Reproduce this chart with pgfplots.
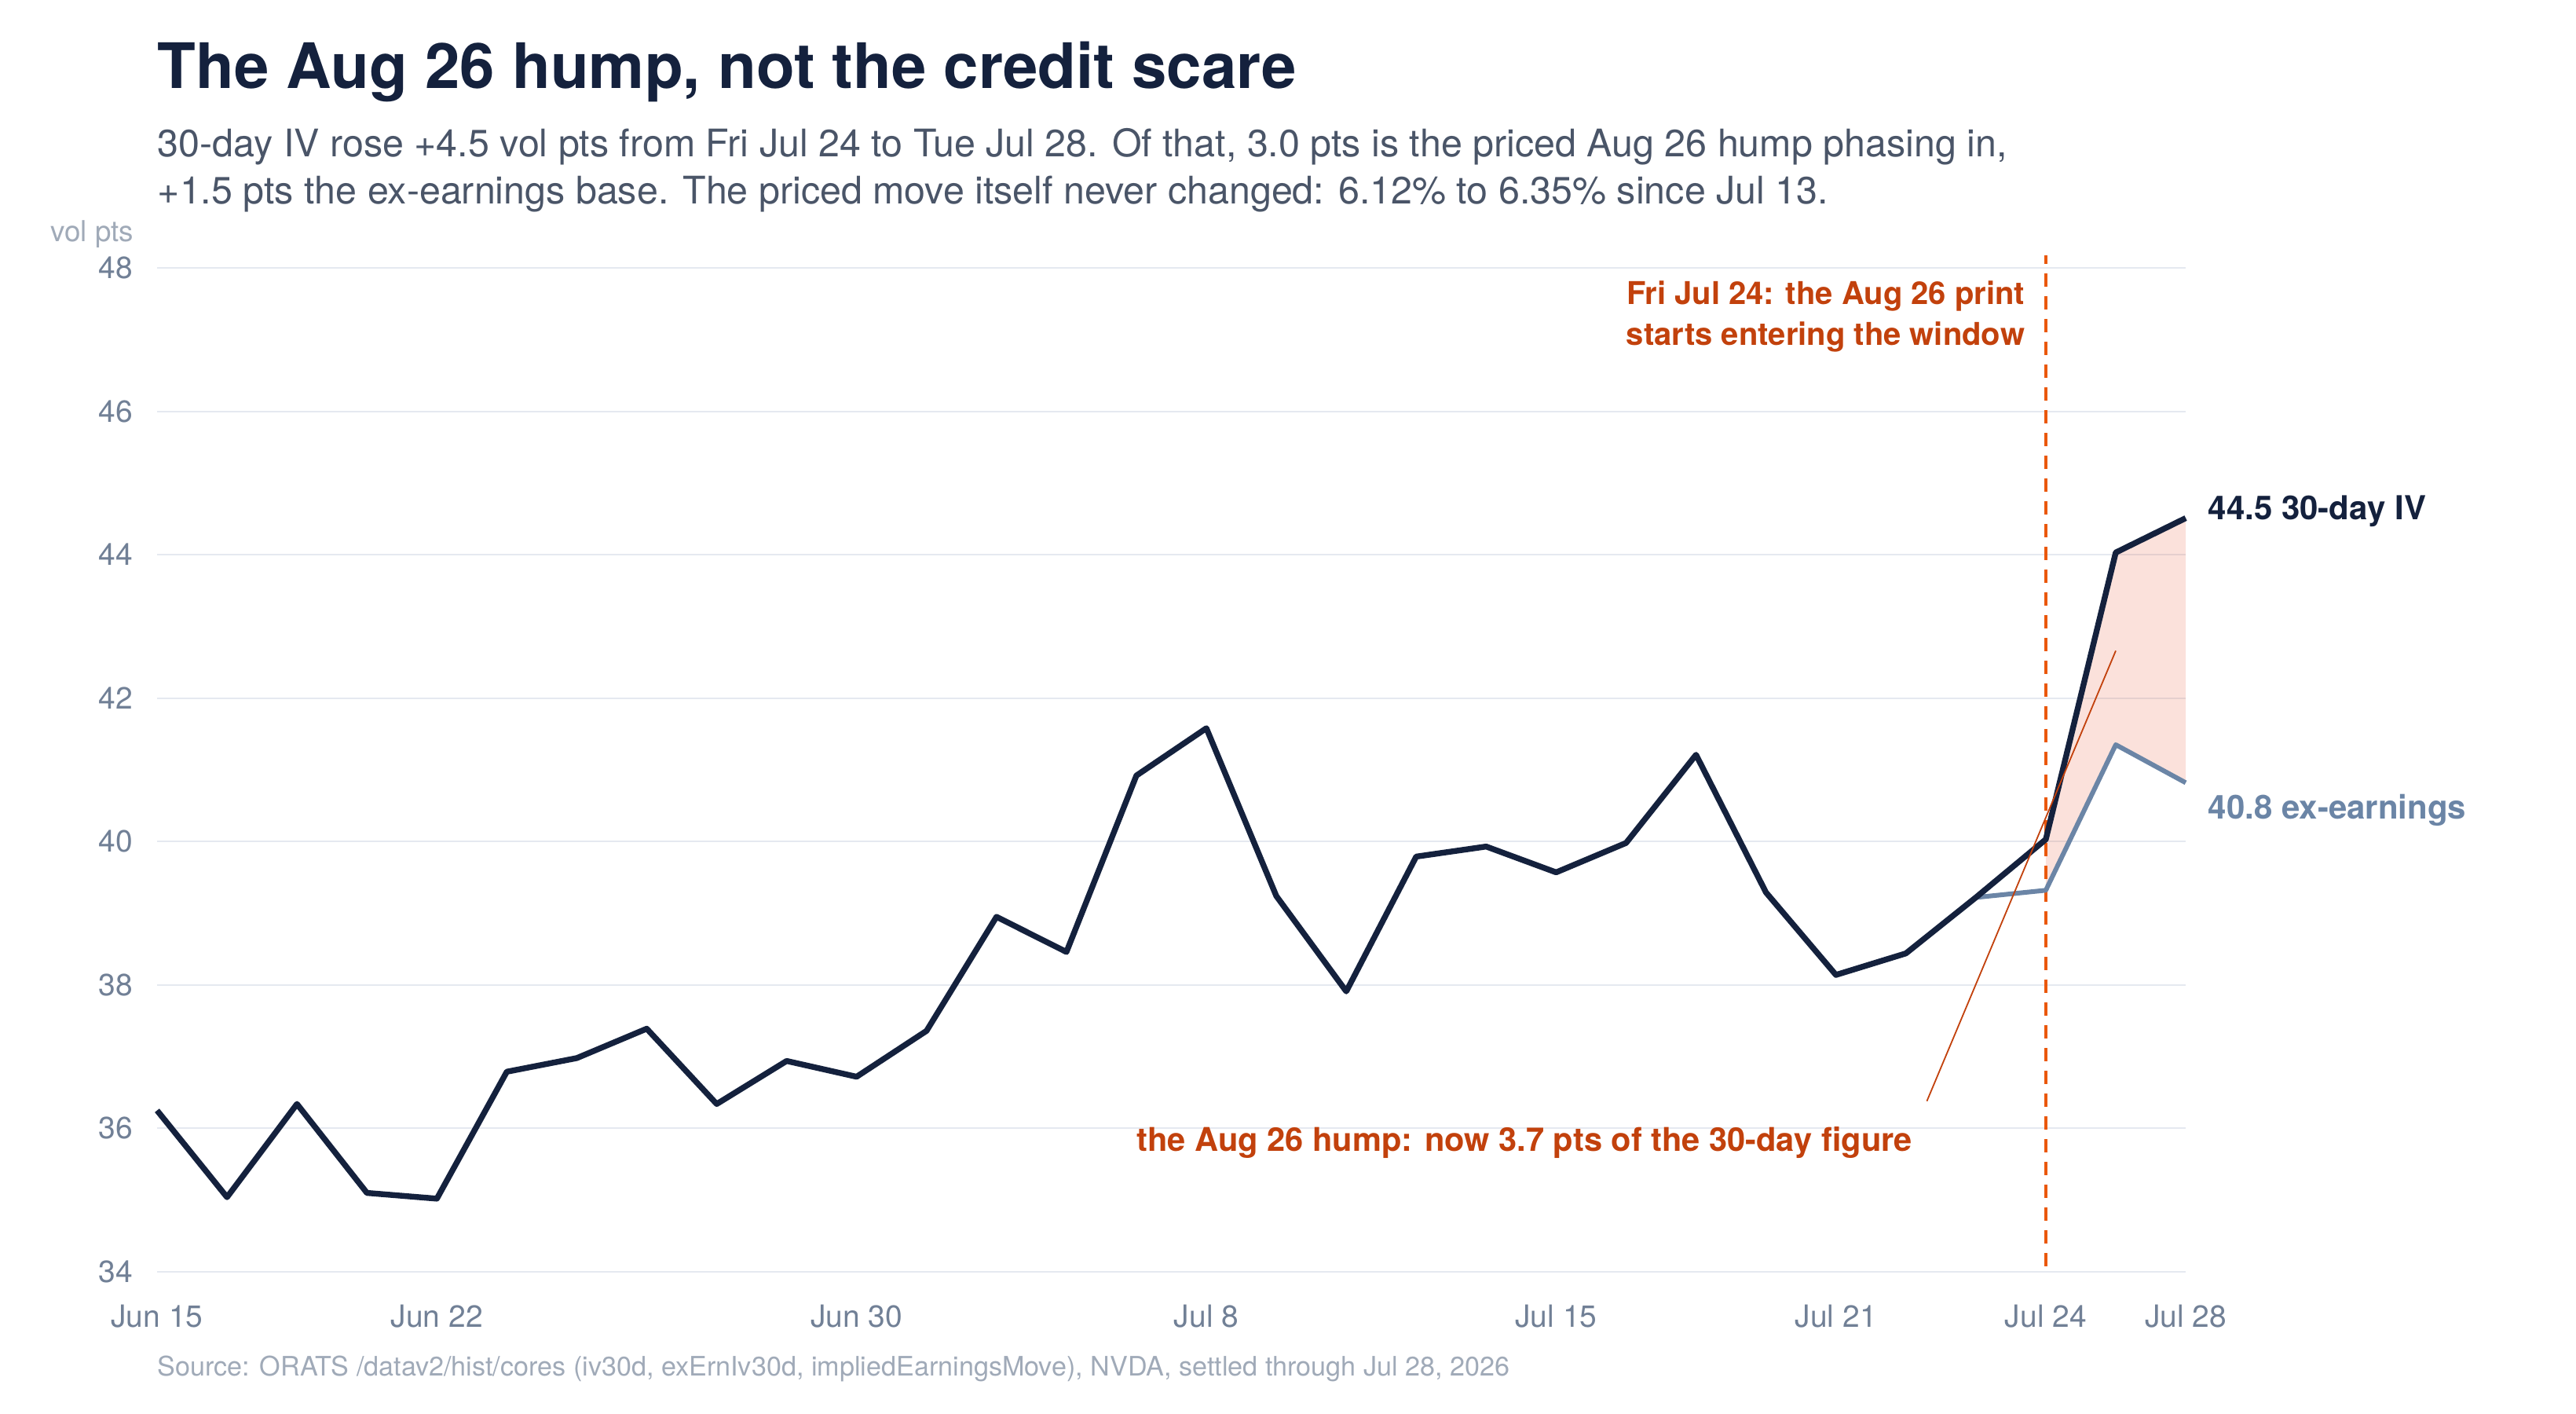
\documentclass[border=0pt]{standalone}
\usepackage{pgfplots}
\pgfplotsset{compat=1.18}
\usepackage{fontspec}
\setmainfont{TeX Gyre Heros}
\definecolor{navy}{HTML}{14213D}
\definecolor{exc}{HTML}{6B85A6}
\definecolor{tickc}{HTML}{718096}
\definecolor{subc}{HTML}{4A5568}
\definecolor{srcc}{HTML}{A0AAB8}
\definecolor{gridc}{HTML}{E5E9F0}
\definecolor{annot}{HTML}{C2410C}
\definecolor{dashc}{HTML}{EA580C}
\definecolor{fillc}{HTML}{E8502A}

\pgfplotstableread{
x y
0 36.25
1 35.04
2 36.34
3 35.10
4 35.02
5 36.79
6 36.98
7 37.39
8 36.34
9 36.94
10 36.72
11 37.36
12 38.95
13 38.46
14 40.92
15 41.58
16 39.24
17 37.91
18 39.79
19 39.93
20 39.57
21 39.98
22 41.21
23 39.29
24 38.14
25 38.44
26 39.22
27 40.03
28 44.03
29 44.51
}\ivdata

\pgfplotstableread{
x y
26 39.22
27 39.32
28 41.35
29 40.82
}\exdata

\begin{document}
\begin{tikzpicture}[x=1bp,y=1bp]
\path[use as bounding box] (0,0) rectangle (820,450);
\node[anchor=base west, inner sep=0pt, text=navy, font=\fontsize{19.95bp}{24bp}\selectfont\bfseries] at (50,421.75) {The Aug 26 hump, not the credit scare};
\node[anchor=base west, inner sep=0pt, text=subc, font=\fontsize{12.1bp}{15bp}\selectfont] at (50,400) {30-day IV rose +4.5 vol pts from Fri Jul 24 to Tue Jul 28. Of that, 3.0 pts is the priced Aug 26 hump phasing in,};
\node[anchor=base west, inner sep=0pt, text=subc, font=\fontsize{12.1bp}{15bp}\selectfont] at (50,385) {+1.5 pts the ex-earnings base. The priced move itself never changed: 6.12\% to 6.35\% since Jul 13.};
\node[anchor=base east, inner sep=0pt, text=srcc, font=\fontsize{9.2bp}{11bp}\selectfont] at (42.75,373) {vol pts};
\node[anchor=base west, inner sep=0pt, text=srcc, font=\fontsize{8.54bp}{10bp}\selectfont] at (50,12) {Source: ORATS /datav2/hist/cores (iv30d, exErnIv30d, impliedEarningsMove), NVDA, settled through Jul 28, 2026};

\begin{axis}[
  at={(50bp,45.25bp)}, anchor=south west,
  scale only axis, width=645.75bp, height=319.5bp,
  xmin=0, xmax=29, ymin=34, ymax=48,
  ytick={34,36,38,40,42,44,46,48},
  xtick={0,4,10,15,20,24,27,29},
  xticklabels={Jun 15,Jun 22,Jun 30,Jul 8,Jul 15,Jul 21,Jul 24,Jul 28},
  ymajorgrids, grid style={draw=gridc, line width=0.5bp},
  axis line style={draw=none},
  major tick length=0pt,
  tick label style={font=\fontsize{9.75bp}{11bp}\selectfont, text=tickc},
  yticklabel style={anchor=east, inner sep=0pt, xshift=-7.5bp},
  xticklabel style={anchor=north, inner sep=0pt, yshift=-10.25bp},
  /pgf/number format/assume math mode=true,
  clip=false,
]
\addplot[draw=none, fill=fillc, fill opacity=0.17] coordinates {(27,40.03) (28,44.03) (29,44.51) (29,40.82) (28,41.35) (27,39.32)} -- cycle;
\draw[dashc, line width=0.8bp, dash pattern=on 4.25bp off 3bp] (axis cs:27,34.08) -- (axis cs:27,48.17);
\addplot[exc, line width=1.5bp, line join=round] table {\exdata};
\addplot[navy, line width=1.85bp, line join=round] table {\ivdata};
\draw[annot, line width=0.45bp] (axis cs:25.3,36.38) -- (axis cs:28,42.66);
\node[anchor=base east, inner sep=0pt, text=annot, font=\fontsize{10bp}{11bp}\selectfont\bfseries] at ([xshift=-6.5bp]axis cs:27,47.485) {Fri Jul 24: the Aug 26 print};
\node[anchor=base east, inner sep=0pt, text=annot, font=\fontsize{10bp}{11bp}\selectfont\bfseries] at ([xshift=-6.5bp]axis cs:27,46.916) {starts entering the window};
\node[anchor=base, inner sep=0pt, text=annot, font=\fontsize{10.4bp}{12bp}\selectfont\bfseries] at (axis cs:19.55,35.676) {the Aug 26 hump: now 3.7 pts of the 30-day figure};
\node[anchor=base west, inner sep=0pt, text=navy, font=\fontsize{10.5bp}{12bp}\selectfont\bfseries] at ([xshift=7bp,yshift=-0.6bp]axis cs:29,44.51) {44.5 30-day IV};
\node[anchor=base west, inner sep=0pt, text=exc, font=\fontsize{10.5bp}{12bp}\selectfont\bfseries] at ([xshift=7bp,yshift=-11.5bp]axis cs:29,40.82) {40.8 ex-earnings};
\end{axis}
\end{tikzpicture}
\end{document}
